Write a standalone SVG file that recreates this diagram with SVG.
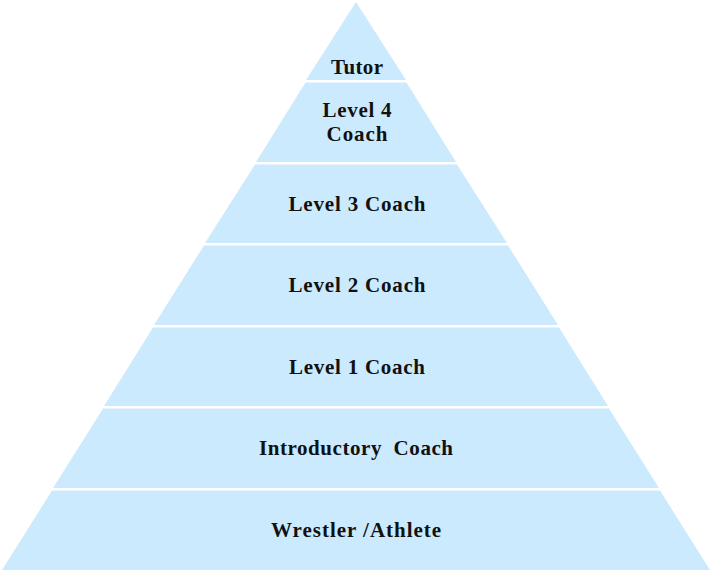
<svg xmlns="http://www.w3.org/2000/svg" width="713" height="571" viewBox="0 0 713 571">
<style>
.layer{fill:#CCEAFD;}
.lbl{font-family:"Liberation Serif","Times New Roman",serif;font-weight:bold;font-size:21px;fill:#111;text-anchor:middle;}
</style>
<rect width="713" height="571" fill="#fff"/>
<g id="tutor"><polygon class="layer" points="356,2 406,80 306,80"/><text class="lbl" x="357" y="74" textLength="52">Tutor</text></g>
<g id="level4"><polygon class="layer" points="305.5,82.5 406.5,82.5 456,162 256,162"/><text class="lbl" x="357" y="117" textLength="69">Level 4</text><text class="lbl" x="357" y="141" textLength="61">Coach</text></g>
<g id="level3"><polygon class="layer" points="255,164.5 457,164.5 507,243 205,243"/><text class="lbl" x="357" y="211" textLength="137">Level 3 Coach</text></g>
<g id="level2"><polygon class="layer" points="204,245.5 508,245.5 558,325 154,325"/><text class="lbl" x="357" y="292" textLength="137">Level 2 Coach</text></g>
<g id="level1"><polygon class="layer" points="153,327.5 559,327.5 608,406 104,406"/><text class="lbl" x="357" y="374" textLength="136">Level 1 Coach</text></g>
<g id="introductory"><polygon class="layer" points="103,408.5 609,408.5 659,488 53,488"/><text class="lbl" x="356" y="455" textLength="194" xml:space="preserve">Introductory  Coach</text></g>
<g id="wrestler"><polygon class="layer" points="52,490.5 660,490.5 710,570 2,570"/><text class="lbl" x="356" y="537" textLength="170">Wrestler /Athlete</text></g>
<g id="connectors"></g>
</svg>
